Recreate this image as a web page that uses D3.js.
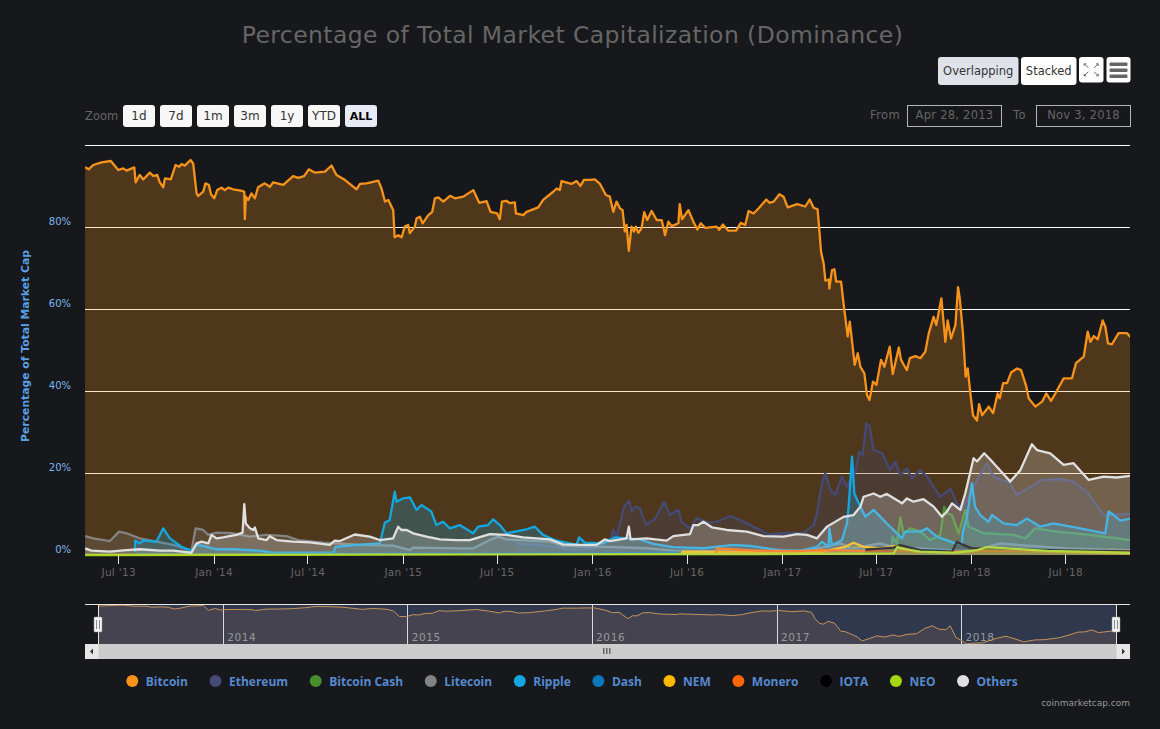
<!DOCTYPE html>
<html>
<head>
<meta charset="utf-8">
<script src="https://cdn.jsdelivr.net/npm/d3@7"></script>
<style>
  html, body { margin: 0; background: #17181b; }
  svg { display: block; font-family: "DejaVu Sans", sans-serif; }
  .axis path { display: none; }
</style>
</head>
<body>
<svg id="chart" width="1160" height="729"></svg>
<script>
// all series are [decimal year, percent of total market cap]
const bitcoin = [[2013.321,94.55],[2013.34,94.06],[2013.364,95.12],[2013.408,95.77],[2013.457,96.1],[2013.496,93.9],[2013.522,94.3],[2013.54,93.74],[2013.581,94.55],[2013.588,90.9],[2013.61,92.7],[2013.628,91.6],[2013.663,93.25],[2013.681,92.44],[2013.702,92.7],[2013.716,90.9],[2013.734,89.7],[2013.743,91.87],[2013.774,91.6],[2013.799,95.12],[2013.818,94.7],[2013.831,95.37],[2013.848,94.96],[2013.878,96.34],[2013.892,95.5],[2013.91,88.2],[2013.919,87.56],[2013.945,88.6],[2013.957,90.65],[2013.975,90.24],[2013.986,87.97],[2014.003,87],[2014.019,89],[2014.042,89.6],[2014.059,89],[2014.077,89.6],[2014.103,89.2],[2014.151,88.8],[2014.162,88.6],[2014.165,81.9],[2014.17,87.4],[2014.183,86.6],[2014.2,88.2],[2014.218,87],[2014.235,89.7],[2014.27,90.65],[2014.297,89.8],[2014.315,90.9],[2014.368,90.3],[2014.42,92.4],[2014.447,92],[2014.478,92.4],[2014.503,94.06],[2014.535,93.25],[2014.588,93.5],[2014.623,95],[2014.649,92.7],[2014.693,91.5],[2014.755,89.2],[2014.773,90.5],[2014.808,90.65],[2014.87,91.3],[2014.887,89.4],[2014.905,86.2],[2014.923,86.6],[2014.949,84.1],[2014.956,77.5],[2014.975,78],[2014.993,77.5],[2015.01,80.1],[2015.028,80.5],[2015.037,78.5],[2015.063,80.1],[2015.072,82.1],[2015.09,82.5],[2015.104,80.9],[2015.134,82.9],[2015.155,83.7],[2015.169,87],[2015.187,87.2],[2015.213,86.2],[2015.249,87.6],[2015.275,87],[2015.319,87.4],[2015.372,89],[2015.403,85.9],[2015.442,86.3],[2015.463,83.7],[2015.498,83.3],[2015.512,81.9],[2015.523,86.2],[2015.547,86.4],[2015.565,85.8],[2015.591,86],[2015.597,83.3],[2015.636,82.9],[2015.653,83.7],[2015.715,84.8],[2015.741,86.6],[2015.794,88.6],[2015.812,89.4],[2015.829,89],[2015.838,91.2],[2015.891,90.5],[2015.917,91.2],[2015.938,90],[2015.956,91.5],[2015.988,91.5],[2016.014,91.6],[2016.04,90.6],[2016.072,87.8],[2016.093,87.4],[2016.111,83.7],[2016.128,86.2],[2016.146,84.55],[2016.16,84.1],[2016.172,78.9],[2016.181,80.5],[2016.193,74.2],[2016.207,80.1],[2016.22,78.9],[2016.23,80.1],[2016.243,78.6],[2016.26,79.7],[2016.274,83.6],[2016.29,81.7],[2016.313,83.9],[2016.34,81.7],[2016.366,81.7],[2016.384,78],[2016.401,81.3],[2016.419,80.2],[2016.454,80.9],[2016.461,85.6],[2016.473,81.9],[2016.507,84.1],[2016.533,81.3],[2016.554,79.4],[2016.572,80.9],[2016.595,79.8],[2016.656,80.1],[2016.669,79.3],[2016.688,80.6],[2016.718,79.1],[2016.758,79.1],[2016.783,81],[2016.806,80.5],[2016.824,83.9],[2016.85,83.3],[2016.876,84.5],[2016.917,86.7],[2016.934,85.9],[2016.956,86.2],[2016.986,88],[2017.008,87.4],[2017.03,84.8],[2017.08,85.6],[2017.123,85],[2017.146,86.7],[2017.167,84.7],[2017.188,84.3],[2017.197,79.3],[2017.206,74],[2017.22,71.1],[2017.229,66.9],[2017.247,67.2],[2017.25,65],[2017.264,69.5],[2017.277,69.7],[2017.286,66.7],[2017.312,66.7],[2017.326,61],[2017.347,53.3],[2017.358,56.9],[2017.367,53.3],[2017.384,46.4],[2017.4,49.2],[2017.414,45.9],[2017.435,44.3],[2017.449,39],[2017.462,37.8],[2017.481,42.3],[2017.499,41.5],[2017.523,47.6],[2017.541,45.9],[2017.569,50.8],[2017.585,44.1],[2017.617,50.6],[2017.629,47.6],[2017.643,46.4],[2017.66,45.1],[2017.675,48],[2017.705,48.5],[2017.731,48],[2017.757,49.6],[2017.775,54],[2017.801,58.1],[2017.815,56.1],[2017.842,62.6],[2017.863,52],[2017.875,57.2],[2017.893,52.8],[2017.916,56.1],[2017.93,65.3],[2017.939,62.6],[2017.956,54],[2017.97,43.5],[2017.981,45.5],[2017.995,39.4],[2018.009,34.1],[2018.03,32.8],[2018.041,36.8],[2018.057,34.1],[2018.092,36.2],[2018.115,34.6],[2018.139,39.4],[2018.15,38.2],[2018.168,41.9],[2018.189,41.9],[2018.21,44.5],[2018.242,45.5],[2018.263,45.1],[2018.291,41],[2018.303,38.2],[2018.338,36.2],[2018.374,37.4],[2018.396,39.4],[2018.421,37.6],[2018.449,39.8],[2018.488,43.1],[2018.532,43.1],[2018.553,46.8],[2018.594,48.4],[2018.615,54.5],[2018.629,52],[2018.647,53.4],[2018.668,52.6],[2018.694,57.2],[2018.708,55.7],[2018.722,51.6],[2018.743,51.4],[2018.778,54.1],[2018.823,54.1],[2018.84,53.2]];
const ethereum = [[2015.6,2.7],[2015.72,2.45],[2015.9,1.2],[2016.02,1.6],[2016.1,4.06],[2016.11,6.25],[2016.128,4.3],[2016.168,11.8],[2016.195,13.25],[2016.207,10.6],[2016.225,11.8],[2016.251,11.4],[2016.283,7.3],[2016.304,8.1],[2016.33,8.7],[2016.378,13],[2016.41,9.75],[2016.454,11],[2016.471,8.1],[2016.515,6.5],[2016.551,9],[2016.604,7.9],[2016.656,8.1],[2016.727,9.5],[2016.78,8.5],[2016.868,6.5],[2016.93,5],[2017.01,5.3],[2017.114,5.45],[2017.167,7.3],[2017.185,10.2],[2017.211,17.5],[2017.229,19.9],[2017.255,15.9],[2017.281,14.6],[2017.317,19.1],[2017.343,16.7],[2017.387,20.3],[2017.408,25.2],[2017.426,24.4],[2017.445,32.1],[2017.463,31.3],[2017.484,25.6],[2017.51,25.2],[2017.528,24.8],[2017.572,20.7],[2017.598,22.8],[2017.625,19.5],[2017.66,21.1],[2017.686,18.7],[2017.73,20.7],[2017.766,19.1],[2017.836,14.2],[2017.892,16.2],[2017.924,12.6],[2017.95,11],[2018.03,18.3],[2018.083,22.4],[2018.118,19.1],[2018.162,18.3],[2018.206,17.5],[2018.241,14.6],[2018.373,18.3],[2018.47,18.5],[2018.54,17.9],[2018.61,15.4],[2018.699,9.75],[2018.84,10]];
const bitcoinCash = [[2017.581,0.8],[2017.583,4.5],[2017.607,2.85],[2017.625,9.2],[2017.642,5.3],[2017.678,6.5],[2017.73,5.7],[2017.783,3.65],[2017.836,4.9],[2017.857,11.8],[2017.871,10.2],[2017.898,9.75],[2017.933,5.3],[2017.968,11],[2017.986,6.9],[2018.065,5.3],[2018.224,4.9],[2018.285,4.06],[2018.338,6.5],[2018.452,5.7],[2018.628,4.9],[2018.84,3.65]];
const litecoin = [[2013.321,4.6],[2013.364,4.06],[2013.452,3.4],[2013.501,5.7],[2013.54,5.3],[2013.61,4.06],[2013.698,3.25],[2013.787,2.45],[2013.883,1.05],[2013.905,6.5],[2013.945,6.1],[2013.972,4.9],[2014.015,5.45],[2014.103,5.3],[2014.192,4.5],[2014.28,4.9],[2014.385,4.6],[2014.447,3.65],[2014.58,3],[2014.772,2.45],[2014.948,2.3],[2015.037,1.2],[2015.054,1.8],[2015.3,1.6],[2015.371,1.6],[2015.459,3.65],[2015.503,4.5],[2015.547,3.8],[2015.776,3.25],[2015.846,2.2],[2016.075,2],[2016.287,1.65],[2016.427,1.05],[2016.779,0.8],[2017.13,0.55],[2017.167,1.4],[2017.308,2.85],[2017.37,1.6],[2017.519,2.85],[2017.59,2],[2017.871,1.2],[2017.942,1.2],[2018.012,1],[2018.153,2.85],[2018.259,2.4],[2018.505,1.6],[2018.84,1.2]];
const ripple = [[2013.584,0.8],[2013.586,3.5],[2013.61,2.85],[2013.628,3.5],[2013.698,3.25],[2013.734,6.5],[2013.769,4.06],[2013.83,2],[2013.883,1.05],[2013.91,2.45],[2013.945,2.2],[2014.015,1.4],[2014.103,1.4],[2014.244,1.05],[2014.315,0.55],[2014.632,0.55],[2014.646,2],[2014.755,2.45],[2014.878,2.85],[2014.905,7.9],[2014.93,8.5],[2014.957,15.45],[2014.966,13],[2015,13.8],[2015.037,14.05],[2015.072,11],[2015.098,12.2],[2015.15,10.6],[2015.177,7.3],[2015.212,8.1],[2015.248,6.5],[2015.3,7.3],[2015.371,5.3],[2015.397,6.9],[2015.45,7.3],[2015.477,8.7],[2015.512,7.3],[2015.547,5.3],[2015.653,6.25],[2015.697,6.9],[2015.74,4.9],[2015.802,3.65],[2015.917,2.45],[2015.931,4.3],[2015.961,3],[2016.058,2.85],[2016.12,4.3],[2016.251,3.8],[2016.322,2.7],[2016.427,1.9],[2016.586,1.65],[2016.744,2.45],[2016.832,2.2],[2016.991,1.2],[2017.097,1.05],[2017.185,2],[2017.211,3.25],[2017.246,2],[2017.25,6.5],[2017.264,2.4],[2017.317,3.65],[2017.343,7.7],[2017.352,11.8],[2017.37,24],[2017.382,15],[2017.405,12.6],[2017.44,9.35],[2017.484,11],[2017.554,7.7],[2017.634,4.06],[2017.651,5.7],[2017.73,5.7],[2017.766,6.5],[2017.818,4.5],[2017.915,2.85],[2017.95,2.85],[2017.954,5.3],[2017.977,9.35],[2018.003,17.5],[2018.02,11.8],[2018.047,9.75],[2018.091,8.1],[2018.109,9.75],[2018.17,7.7],[2018.241,7.3],[2018.294,8.9],[2018.364,6.9],[2018.435,7.7],[2018.575,6.5],[2018.708,5.3],[2018.725,10.6],[2018.752,9.75],[2018.787,8.4],[2018.84,8.9]];
const dash = [[2014.15,0.2],[2015,0.3],[2016,0.4],[2016.5,0.6],[2017,0.8],[2017.2,1],[2017.3,1.5],[2017.5,1.2],[2018,1],[2018.84,0.8]];
const nem = [[2016.47,0.2],[2016.475,0.8],[2017.2,0.7],[2017.334,2],[2017.378,3],[2017.431,2],[2017.519,1.6],[2017.607,2.2],[2017.695,0.8],[2018,0.8],[2018.05,1.2],[2018.84,0.3]];
const monero = [[2016.65,0.2],[2016.656,1.6],[2016.868,1.05],[2017.06,0.95],[2017.22,1.2],[2017.43,1],[2017.9,0.9],[2018.84,1]];
const iota = [[2017.44,1.3],[2017.59,1.8],[2017.625,2.4],[2017.73,1.2],[2017.898,0.8],[2017.924,3.25],[2017.96,2.4],[2018.003,1.6],[2018.135,1.6],[2018.4,1.2],[2018.84,0.9]];
const neo = [[2013.321,0],[2016.9,0.25],[2017.59,0.4],[2017.61,2],[2017.625,1.6],[2017.73,0.8],[2017.91,0.55],[2018.03,1.2],[2018.083,1.9],[2018.188,1.6],[2018.4,1],[2018.84,0.55]];
const others = [[2013.321,1.6],[2013.355,1.05],[2013.452,0.8],[2013.54,1.2],[2013.61,1.4],[2013.716,1.05],[2013.787,1.05],[2013.883,0.55],[2013.91,2.85],[2013.936,3.25],[2013.972,2.85],[2013.989,4.9],[2014.015,4.06],[2014.05,4.3],[2014.12,4.9],[2014.153,5.45],[2014.162,12.4],[2014.17,7.7],[2014.192,6.5],[2014.209,6.1],[2014.218,6.7],[2014.236,4.06],[2014.28,3.65],[2014.297,4.6],[2014.333,3.65],[2014.42,3.25],[2014.508,3.1],[2014.614,2.45],[2014.64,3.5],[2014.667,3.4],[2014.746,5],[2014.825,4.5],[2014.878,3.65],[2014.948,4.06],[2014.975,6.9],[2014.992,6.1],[2015.02,6.1],[2015.054,5.3],[2015.125,4.5],[2015.195,3.8],[2015.283,3.65],[2015.353,3.65],[2015.459,5.1],[2015.547,4.9],[2015.635,4.3],[2015.776,3.8],[2015.846,2.6],[2015.934,2.45],[2016.022,2.45],[2016.066,3.8],[2016.093,3.4],[2016.181,4.06],[2016.193,6.9],[2016.202,3.8],[2016.287,4.06],[2016.392,3.5],[2016.427,4.6],[2016.515,5.1],[2016.533,7.3],[2016.559,7.3],[2016.586,8.1],[2016.63,6.75],[2016.709,6.1],[2016.815,5.7],[2016.903,4.6],[2017.008,4.5],[2017.079,5.1],[2017.132,4.9],[2017.185,4.06],[2017.237,6.9],[2017.325,9.3],[2017.378,9.75],[2017.414,11.8],[2017.431,14.2],[2017.484,15],[2017.519,14.2],[2017.554,14.9],[2017.634,12.6],[2017.66,13.8],[2017.695,13],[2017.748,13.6],[2017.801,11.8],[2017.845,9.35],[2017.871,10.6],[2017.898,12.6],[2017.942,11],[2017.968,15],[2018.012,23.6],[2018.03,22.8],[2018.068,24.8],[2018.118,22.4],[2018.206,17.9],[2018.259,20.7],[2018.32,27],[2018.347,25.6],[2018.417,24.8],[2018.488,22],[2018.54,22.4],[2018.62,18.3],[2018.699,19.1],[2018.77,18.9],[2018.84,19.3]];

const seriesNames = ["Bitcoin", "Ethereum", "Bitcoin Cash", "Litecoin", "Ripple", "Dash", "NEM", "Monero", "IOTA", "NEO", "Others"];
const seriesColors = ["#f7931a", "#454a75", "#478f2e", "#838383", "#13a7e2", "#0877bd", "#fdb900", "#ff6600", "#000000", "#a5d610", "#e0e0e0"];
const seriesData = [bitcoin, ethereum, bitcoinCash, litecoin, ripple, dash, nem, monero, iota, neo, others];

const xTicks = ["2013-07-01", "2014-01-01", "2014-07-01", "2015-01-01", "2015-07-01", "2016-01-01", "2016-07-01", "2017-01-01", "2017-07-01", "2018-01-01", "2018-07-01"];
const yLabelTicks = [0, 20, 40, 60, 80];
const yGridTicks = [20, 40, 60, 80, 100];
const navYears = [2014, 2015, 2016, 2017, 2018];
const zoomLabels = ["1d", "7d", "1m", "3m", "1y", "YTD", "ALL"];

const bg = "#17181b";
const plot = { left: 85, right: 1130, top: 145, bottom: 555 };
const nav = { left: 98, right: 1116, top: 604, bottom: 644 };

const svg = d3.select("#chart");
svg.append("rect").attr("width", 1160).attr("height", 729).attr("fill", bg);

// decimal year -> Date
function toDate(t) {
    const year = Math.floor(t);
    const start = Date.UTC(year, 0, 1), end = Date.UTC(year + 1, 0, 1);
    return new Date(start + (t - year) * (end - start));
}
const domainX = [new Date("2013-04-28"), new Date("2018-11-03")];
const x = d3.scaleUtc().domain(domainX).range([plot.left, plot.right]);
const y = d3.scaleLinear().domain([0, 100]).range([plot.bottom, plot.top]);

// title
svg.append("text").attr("x", 572.5).attr("y", 43).attr("text-anchor", "middle")
    .attr("fill", "#666").attr("font-size", 23.5).attr("letter-spacing", 0.4)
    .text("Percentage of Total Market Capitalization (Dominance)");

// grid sits under the areas, so the areas tint it
svg.append("g").selectAll("line").data(yGridTicks).join("line")
    .attr("x1", plot.left).attr("x2", plot.right)
    .attr("y1", d => y(d)).attr("y2", d => y(d))
    .attr("stroke", "#fff").attr("stroke-width", 1).attr("shape-rendering", "crispEdges");

svg.append("clipPath").attr("id", "plot-clip").append("rect")
    .attr("x", plot.left).attr("y", plot.top - 5)
    .attr("width", plot.right - plot.left).attr("height", plot.bottom - plot.top + 7);

const area = d3.area().x(d => x(toDate(d[0]))).y0(y(0)).y1(d => y(d[1]));
const line = d3.line().x(d => x(toDate(d[0]))).y(d => y(d[1]));

const series = svg.append("g").attr("clip-path", "url(#plot-clip)");
seriesData.forEach((data, i) => {
    series.append("path").attr("d", area(data)).attr("fill", seriesColors[i]).attr("fill-opacity", 0.25);
    series.append("path").attr("d", line(data)).attr("fill", "none")
        .attr("stroke", seriesColors[i]).attr("stroke-width", 2.3).attr("stroke-linejoin", "round");
});

// x axis
const xAxis = svg.append("g").attr("class", "axis")
    .attr("transform", `translate(0,${plot.bottom})`)
    .call(d3.axisBottom(x).tickValues(xTicks.map(d => new Date(d)))
        .tickSize(9).tickPadding(4.5).tickFormat(d3.utcFormat("%b '%y")));
xAxis.selectAll("line").attr("stroke", "#e6e6e6").attr("shape-rendering", "crispEdges");
xAxis.selectAll("text").attr("fill", "#666").attr("font-size", 10.5)
    .attr("font-family", "DejaVu Sans").attr("letter-spacing", 0.3);

// y axis, labels sit just above their gridline
const yAxis = svg.append("g").attr("class", "axis")
    .attr("transform", `translate(71,0)`)
    .call(d3.axisLeft(y).tickValues(yLabelTicks).tickSize(0).tickPadding(0).tickFormat(d => d + "%"));
yAxis.selectAll("text").attr("fill", "#7cb5ec").attr("font-size", 10)
    .attr("font-family", "DejaVu Sans").attr("dy", "-0.25em");

svg.append("text").attr("transform", "translate(29,346) rotate(-90)")
    .attr("text-anchor", "middle").attr("fill", "#5aa0e6")
    .attr("font-size", 10.8).attr("font-weight", "bold")
    .text("Percentage of Total Market Cap");

// range selector
function button(g, bx, by, w, h, label, fill, opts = {}) {
    g.append("rect").attr("x", bx).attr("y", by).attr("width", w).attr("height", h)
        .attr("rx", 3).attr("fill", fill);
    if (label) {
        g.append("text").attr("x", bx + w / 2).attr("y", by + h / 2 + (opts.dy || 4))
            .attr("text-anchor", "middle").attr("fill", opts.color || "#333")
            .attr("font-size", opts.size || 11.5).attr("font-weight", opts.weight || "normal")
            .text(label);
    }
}
const controls = svg.append("g");
controls.append("text").attr("x", 85).attr("y", 120).attr("fill", "#666").attr("font-size", 11.5).text("Zoom");
zoomLabels.forEach((label, i) => {
    const active = label === "ALL";
    button(controls, 123 + i * 37, 105, 32, 22, label, active ? "#e6ebf5" : "#f7f7f7",
        { color: active ? "#000" : "#333", weight: active ? "bold" : "normal", size: active ? 11 : 12 });
});

button(controls, 938, 57, 80.5, 28, "Overlapping", "#dfe2e8", { size: 11.5 });
button(controls, 1021, 57, 55.5, 28, "Stacked", "#fff", { size: 11.5 });
button(controls, 1079, 57, 24.5, 25.5, null, "#fff");
button(controls, 1106.5, 57, 24, 25.5, null, "#fff");

// fullscreen icon, four little corner arrows
const cx = 1091.2, cy = 69.8;
[[-1, -1], [1, -1], [-1, 1], [1, 1]].forEach(([sx, sy]) => {
    controls.append("path")
        .attr("d", `M${cx + sx * 7},${cy + sy * 6} L${cx + sx * 3},${cy + sy * 2} M${cx + sx * 7},${cy + sy * 6} l${-sx * 2},0 M${cx + sx * 7},${cy + sy * 6} l0,${-sy * 2}`)
        .attr("stroke", "#666").attr("stroke-width", 1).attr("fill", "none");
});
// menu icon
[-6, 0, 6].forEach(d => {
    controls.append("rect").attr("x", 1109.5).attr("y", 68.5 + d).attr("width", 18).attr("height", 3.4)
        .attr("rx", 1).attr("fill", "#666");
});

function dateBox(g, label, labelX, boxX, w, value) {
    g.append("text").attr("x", labelX).attr("y", 119).attr("fill", "#666").attr("font-size", 11.5)
        .attr("letter-spacing", 0.4).text(label);
    g.append("rect").attr("x", boxX).attr("y", 105.5).attr("width", w).attr("height", 21)
        .attr("fill", "none").attr("stroke", "#b5b5b5");
    g.append("text").attr("x", boxX + w / 2).attr("y", 119).attr("text-anchor", "middle")
        .attr("fill", "#666").attr("font-size", 11.5).attr("letter-spacing", 0.25).text(value);
}
dateBox(controls, "From", 870, 907.5, 94, d3.utcFormat("%b %-d, %Y")(domainX[0]));
dateBox(controls, "To", 1013, 1036.5, 94, d3.utcFormat("%b %-d, %Y")(domainX[1]));

// navigator, every second point since the original groups its data there
const navData = bitcoin.filter((d, i) => i % 2 === 0 || i === bitcoin.length - 1);
const navX = d3.scaleUtc().domain(domainX).range([nav.left, nav.right]);
const navY = d3.scaleLinear().domain(d3.extent(bitcoin, d => d[1])).range([nav.bottom, nav.top + 1]);
const navG = svg.append("g");
navG.append("rect").attr("x", nav.left).attr("y", nav.top)
    .attr("width", nav.right - nav.left).attr("height", nav.bottom - nav.top)
    .attr("fill", "rgba(102,133,194,0.3)");
navG.append("path")
    .attr("d", d3.area().x(d => navX(toDate(d[0]))).y0(nav.bottom).y1(d => navY(d[1]))(navData))
    .attr("fill", "#836559").attr("fill-opacity", 0.25);
navG.selectAll("line.year").data(navYears).join("line").attr("class", "year")
    .attr("x1", d => navX(toDate(d))).attr("x2", d => navX(toDate(d)))
    .attr("y1", nav.top).attr("y2", nav.bottom).attr("stroke", "#d8d8d8").attr("shape-rendering", "crispEdges");
navG.selectAll("text.year").data(navYears).join("text").attr("class", "year")
    .attr("x", d => navX(toDate(d)) + 4).attr("y", nav.bottom - 3)
    .attr("fill", "#999").attr("font-size", 10.5).attr("letter-spacing", 0.6).text(d => d);
navG.append("path")
    .attr("d", d3.line().x(d => navX(toDate(d[0]))).y(d => navY(d[1]))(navData))
    .attr("fill", "none").attr("stroke", "#c8935a").attr("stroke-width", 1);
navG.append("line").attr("x1", plot.left).attr("x2", plot.right).attr("y1", nav.top).attr("y2", nav.top)
    .attr("stroke", "#e6e6e6").attr("shape-rendering", "crispEdges");
[nav.left, nav.right].forEach(hx => {
    navG.append("line").attr("x1", hx).attr("x2", hx).attr("y1", nav.top).attr("y2", nav.bottom)
        .attr("stroke", "#e6e6e6").attr("shape-rendering", "crispEdges");
    navG.append("rect").attr("x", hx - 4).attr("y", 617).attr("width", 8).attr("height", 15)
        .attr("rx", 1).attr("fill", "#f2f2f2").attr("stroke", "#999").attr("stroke-width", 0.5);
    [-1.5, 1.5].forEach(o => navG.append("line").attr("x1", hx + o).attr("x2", hx + o)
        .attr("y1", 620).attr("y2", 629).attr("stroke", "#888"));
});

// scrollbar
const bar = svg.append("g");
bar.append("rect").attr("x", plot.left).attr("y", 644).attr("width", plot.right - plot.left).attr("height", 15).attr("fill", "#cccccc");
bar.append("rect").attr("x", plot.left).attr("y", 644).attr("width", 13.5).attr("height", 15).attr("fill", "#e6e6e6");
bar.append("rect").attr("x", 1116.5).attr("y", 644).attr("width", 13.5).attr("height", 15).attr("fill", "#e6e6e6");
bar.append("path").attr("d", "M90,651.5 l3,-3 v6 z").attr("fill", "#333");
bar.append("path").attr("d", "M1125,651.5 l-3,-3 v6 z").attr("fill", "#333");
[-3, 0, 3].forEach(d => bar.append("rect").attr("x", 606.5 + d - 0.5).attr("y", 648).attr("width", 1.5).attr("height", 6).attr("fill", "#666"));

// legend, laid out from the text widths like the original does
const legend = svg.append("g");
const items = seriesNames.map((name, i) => {
    const item = legend.append("g");
    item.append("circle").attr("r", 6).attr("fill", seriesColors[i]);
    const label = item.append("text").attr("x", 13.5).attr("y", 4.5).attr("fill", "#5589d0")
        .attr("font-family", "Open Sans").attr("font-size", 12).attr("font-weight", "bold").text(name);
    return { item, width: label.node().getComputedTextLength() };
});
const itemGap = 27.6;
const total = d3.sum(items, d => d.width + 13.5) + itemGap * (items.length - 1);
let cursor = 575 - total / 2;
items.forEach(d => {
    d.item.attr("transform", `translate(${cursor},681)`);
    cursor += d.width + 13.5 + itemGap;
});

svg.append("text").attr("x", plot.right).attr("y", 706).attr("text-anchor", "end")
    .attr("fill", "#999").attr("font-size", 9).text("coinmarketcap.com");
</script>
</body>
</html>
